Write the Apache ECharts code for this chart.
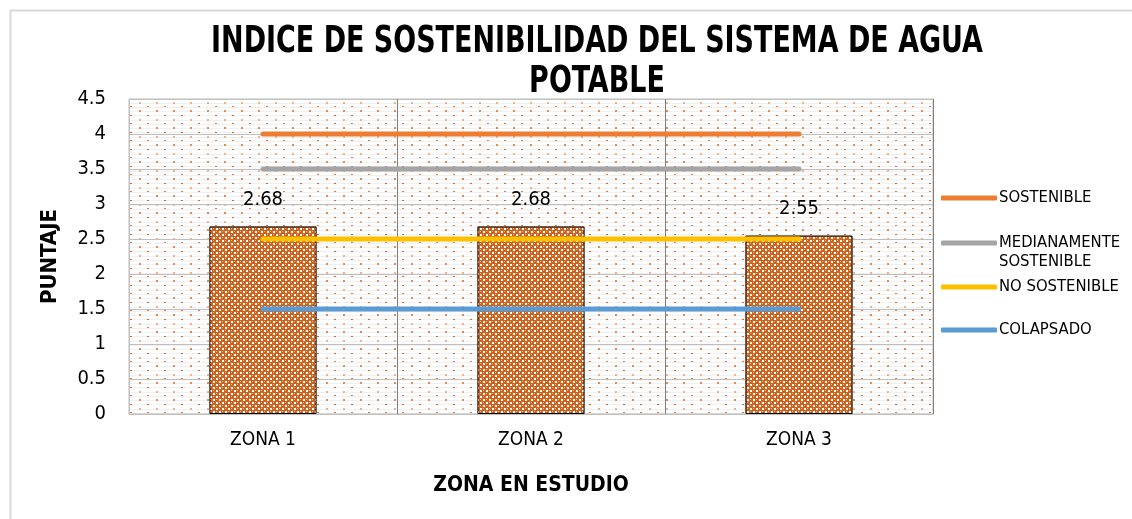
<!DOCTYPE html>
<html>
<head>
<meta charset="utf-8">
<script src="https://cdn.jsdelivr.net/npm/echarts@6/dist/echarts.min.js"></script>
<style>
html,body{margin:0;padding:0;background:#fff;}
#chart{width:1132px;height:519px;}
</style>
</head>
<body>
<div id="chart"></div>
<script>
var titleText = 'INDICE DE SOSTENIBILIDAD DEL SISTEMA DE AGUA\nPOTABLE';
var categories = ['ZONA 1', 'ZONA 2', 'ZONA 3'];
var scores = [2.68, 2.68, 2.55];
var sostenible = [4, 4, 4];
var medianamente = [3.5, 3.5, 3.5];
var noSostenible = [2.5, 2.5, 2.5];
var colapsado = [1.5, 1.5, 1.5];
var yTicks = ['0', '0.5', '1', '1.5', '2', '2.5', '3', '3.5', '4', '4.5'];

var FONT = "'Liberation Sans Narrow', 'DejaVu Sans Condensed', 'Liberation Sans', sans-serif";

function makeBgPattern() {
  var c = document.createElement('canvas');
  c.width = 17; c.height = 17;
  var g = c.getContext('2d');
  g.fillStyle = '#ffffff'; g.fillRect(0, 0, 17, 17);
  g.fillStyle = '#f0f0f0';
  for (var y = 1; y < 17; y += 4) g.fillRect(0, y, 17, 1);
  g.fillStyle = '#f4b183'; g.fillRect(3, 0, 2, 2);
  g.fillStyle = '#e07a35'; g.fillRect(11, 4, 2, 1);
  g.fillStyle = '#e58c4c'; g.fillRect(3, 8, 2, 2);
  g.fillStyle = '#d86a20'; g.fillRect(11, 13, 2, 1);
  return c;
}
function makeBarPattern() {
  var c = document.createElement('canvas');
  c.width = 6; c.height = 6;
  var g = c.getContext('2d');
  g.fillStyle = '#cc6420'; g.fillRect(0, 0, 6, 6);
  g.fillStyle = '#ffffff';
  g.fillRect(0, 0, 2, 2); g.fillRect(3, 3, 2, 2);
  g.fillStyle = '#f2b48a';
  g.fillRect(3, 0, 1, 1); g.fillRect(0, 3, 1, 1);
  return c;
}

var chart = echarts.init(document.getElementById('chart'), null, {renderer: 'canvas'});

function lineSeries(name, data, color) {
  return {
    name: name, type: 'line', data: data, symbol: 'none', z: 5,
    lineStyle: {color: color, width: 5, cap: 'round'},
    itemStyle: {color: color}
  };
}
function legendAt(name, top, fmt) {
  return {
    data: [name], left: 936, top: top, orient: 'vertical',
    icon: 'roundRect', itemWidth: 56, itemHeight: 5, itemGap: 4,
    formatter: fmt || '{name}',
    textStyle: {fontFamily: FONT, fontSize: 16.5, color: '#000', lineHeight: 20, padding: [0,0,0,-3]},
    selectedMode: false
  };
}

chart.setOption({
  backgroundColor: '#fff',
  animation: false,
  graphic: [{
    type: 'rect', left: 8, top: 8, z: -10,
    shape: {width: 1130, height: 520},
    style: {fill: 'none', stroke: '#d9d9d9', lineWidth: 2}
  }, {
    type: 'text', x: 597, y: 22, scaleX: 0.81, z: 10,
    style: {
      text: titleText, textAlign: 'center', textVerticalAlign: 'top',
      fontFamily: FONT, fontSize: 37, fontWeight: 'bold', fill: '#000', lineHeight: 40
    }
  }, {
    type: 'text', x: 999, y: 262, z: 10,
    style: {
      text: 'SOSTENIBLE', textAlign: 'left', textVerticalAlign: 'middle',
      fontFamily: FONT, fontSize: 16.5, fill: '#000'
    }
  }],
  legend: [
    legendAt('SOSTENIBLE', 183),
    legendAt('MEDIANAMENTE SOSTENIBLE', 228, 'MEDIANAMENTE'),
    legendAt('NO SOSTENIBLE', 272),
    legendAt('COLAPSADO', 315)
  ],
  grid: {
    left: 129, right: 199, top: 99, bottom: 105,
    show: true, borderWidth: 1, borderColor: '#bfbfbf',
    backgroundColor: {image: makeBgPattern(), repeat: 'repeat'}
  },
  xAxis: {
    type: 'category', data: categories,
    name: 'ZONA EN ESTUDIO', nameLocation: 'middle', nameGap: 61,
    nameTextStyle: {fontFamily: FONT, fontSize: 21, fontWeight: 'bold', color: '#000'},
    axisLine: {show: true, lineStyle: {color: '#bfbfbf', width: 1}},
    axisTick: {show: false},
    axisLabel: {fontFamily: FONT, fontSize: 19, color: '#000', margin: 17},
    splitLine: {show: true, lineStyle: {color: '#7f7f7f', width: 1}}
  },
  yAxis: {
    type: 'value', min: 0, max: 4.5, interval: 0.5,
    name: 'PUNTAJE', nameLocation: 'middle', nameGap: 68, nameRotate: 90,
    nameTextStyle: {fontFamily: FONT, fontSize: 22, fontWeight: 'bold', color: '#000'},
    axisLine: {show: true, lineStyle: {color: '#bfbfbf'}},
    axisTick: {show: false},
    axisLabel: {
      fontFamily: FONT, fontSize: 20, color: '#000', margin: 23,
      formatter: function (v) { return yTicks[Math.round(v / 0.5)]; }
    },
    splitLine: {show: true, lineStyle: {color: '#bfbfbf', width: 1}}
  },
  series: [
    {
      name: 'PUNTAJE', type: 'bar', data: scores, barWidth: '40%', z: 2,
      itemStyle: {color: {image: makeBarPattern(), repeat: 'repeat'}, borderColor: '#000', borderWidth: 1},
      label: {show: true, position: 'top', distance: 17, fontFamily: FONT, fontSize: 20, color: '#000',
        formatter: function (p) { return p.value.toFixed(2); }}
    },
    lineSeries('SOSTENIBLE', sostenible, '#ED7D31'),
    lineSeries('MEDIANAMENTE SOSTENIBLE', medianamente, '#A5A5A5'),
    lineSeries('NO SOSTENIBLE', noSostenible, '#FFC000'),
    lineSeries('COLAPSADO', colapsado, '#5B9BD5')
  ]
});
</script>
</body>
</html>
